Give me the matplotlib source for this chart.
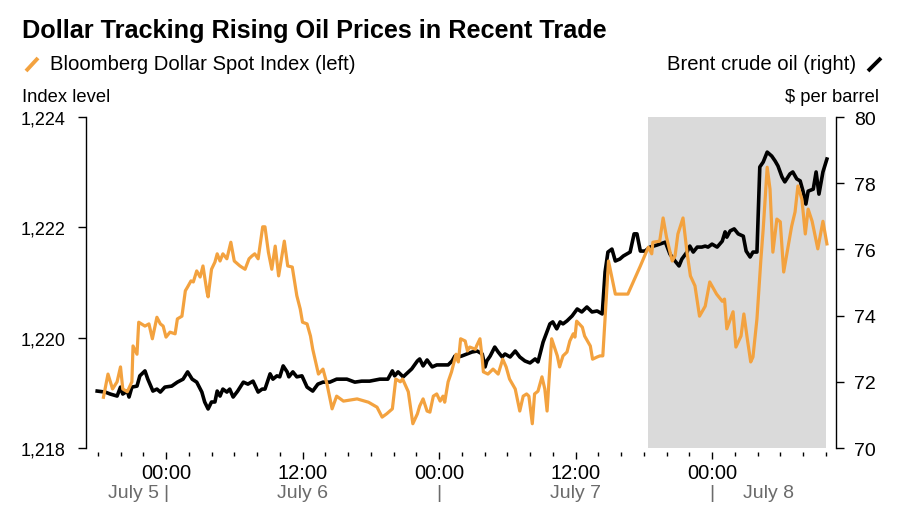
import matplotlib
matplotlib.use('Agg')
import matplotlib.pyplot as plt
from matplotlib.lines import Line2D
import matplotlib.transforms as mtransforms

plt.rcParams['font.family'] = ['Liberation Sans', 'DejaVu Sans']

# hours since July 5 00:00
dxy_hours = [-5.5, -5.1, -4.7, -4.3, -4.0, -3.8, -3.4, -3.0, -2.9, -2.55, -2.4, -1.85, -1.5, -1.2,
             -0.8, -0.5, -0.25, 0.0, 0.35, 0.8, 1.0, 1.4, 1.7, 1.9, 2.2, 2.4, 2.7, 3.0, 3.25, 3.6,
             3.7, 4.0, 4.3, 4.5, 4.75, 5.0, 5.35, 5.7, 6.0, 6.5, 6.95, 7.3, 7.55, 7.8, 8.1, 8.5,
             8.7, 9.0, 9.3, 9.6, 9.9, 10.4, 10.7, 11.1, 11.5, 11.8, 12.0, 12.4, 12.7, 12.9, 13.4,
             13.8, 14.15, 14.6, 15.0, 15.6, 16.8, 17.8, 18.55, 19.0, 19.4, 19.9, 20.2, 20.6, 20.8,
             21.3, 21.7, 22.1, 22.3, 22.6, 22.95, 23.2, 23.5, 23.8, 24.1, 24.35, 24.5, 24.8, 25.1,
             25.5, 25.7, 25.9, 26.3, 26.5, 26.7, 27.2, 27.3, 27.6, 27.8, 27.9, 28.3, 28.75, 29.2,
             29.6, 29.9, 30.2, 30.7, 31.1, 31.4, 31.7, 31.9, 32.2, 32.4, 32.7, 33.05, 33.3, 33.5,
             33.9, 34.4, 34.6, 34.9, 35.25, 35.5, 35.8, 35.95, 36.1, 36.6, 36.8, 37.3, 37.5, 37.9,
             38.15, 38.4, 38.9, 39.5, 40.6, 41.7, 42.4, 42.7, 42.8, 43.4, 43.7, 44.0, 44.5, 44.75,
             45.0, 45.45, 45.8, 46.1, 46.5, 46.9, 47.4, 47.8, 48.4, 48.9, 49.1, 49.3, 49.85, 50.1,
             50.55, 50.8, 51.1, 51.4, 51.6, 51.95, 52.3, 52.5, 52.85, 53.1, 53.35, 53.7, 54.0,
             54.3, 54.7, 55.0, 55.3, 55.55, 55.9, 56.2, 56.45, 56.8, 57.3, 57.75, 58.1]
dxy_values = [1218.92, 1219.34, 1219.07, 1219.20, 1219.47, 1219.07, 1219.02, 1219.20, 1219.85,
              1219.70, 1220.28, 1220.21, 1220.25, 1219.98, 1220.37, 1220.25, 1220.21, 1220.01,
              1220.10, 1220.07, 1220.34, 1220.39, 1220.85, 1220.92, 1221.03, 1221.01, 1221.21,
              1221.10, 1221.30, 1220.83, 1220.74, 1221.24, 1221.37, 1221.52, 1221.39, 1221.52,
              1221.43, 1221.73, 1221.39, 1221.30, 1221.24, 1221.43, 1221.48, 1221.52, 1221.43,
              1222.01, 1222.01, 1221.55, 1221.24, 1221.66, 1221.12, 1221.75, 1221.30, 1221.28,
              1220.76, 1220.52, 1220.28, 1220.25, 1220.03, 1219.79, 1219.34, 1219.43, 1219.16,
              1218.71, 1218.94, 1218.85, 1218.89, 1218.83, 1218.74, 1218.56, 1218.62, 1218.71,
              1219.25, 1219.20, 1219.25, 1219.02, 1218.44, 1218.62, 1218.76, 1218.89, 1218.67,
              1218.65, 1218.94, 1218.98, 1218.85, 1218.94, 1218.83, 1219.20, 1219.38, 1219.70,
              1219.56, 1219.98, 1219.94, 1219.76, 1219.83, 1219.79, 1219.85, 1219.98, 1219.61,
              1219.38, 1219.34, 1219.43, 1219.34, 1219.61, 1219.47, 1219.25, 1219.07, 1218.67,
              1218.94, 1218.98, 1218.94, 1218.44, 1218.98, 1219.03, 1219.29, 1219.07, 1218.67,
              1219.98, 1219.67, 1219.47, 1219.67, 1219.74, 1219.94, 1220.07, 1220.01, 1220.30,
              1220.19, 1220.03, 1219.85, 1219.61, 1219.65, 1219.67, 1219.67, 1221.39, 1220.79,
              1220.79, 1221.30, 1221.64, 1221.52, 1221.73, 1221.75, 1222.17, 1221.82, 1221.39,
              1221.48, 1221.88, 1222.17, 1221.55, 1221.12, 1220.94, 1220.39, 1220.57, 1221.01,
              1220.79, 1220.66, 1220.70, 1220.16, 1220.47, 1219.83, 1220.03, 1220.43, 1219.98,
              1219.56, 1219.65, 1220.34, 1221.43, 1221.97, 1223.09, 1222.69, 1221.55, 1222.15,
              1222.10, 1221.19, 1221.66, 1222.02, 1222.28, 1222.75, 1222.51, 1221.88, 1222.33,
              1222.11, 1221.61, 1222.11, 1221.70]

brent_hours = [-6.05, -5.35, -4.9, -4.3, -4.0, -3.8, -3.4, -3.25, -3.0, -2.55, -2.3, -1.85, -1.6,
               -1.15, -0.8, -0.5, -0.1, 0.5, 1.0, 1.5, 1.9, 2.3, 2.7, 3.15, 3.4, 3.7, 4.0, 4.3,
               4.5, 4.75, 5.0, 5.35, 5.6, 5.9, 6.3, 6.8, 7.2, 7.65, 8.1, 8.45, 8.7, 9.15, 9.4,
               9.75, 10.0, 10.3, 10.65, 10.8, 11.15, 11.5, 11.95, 12.4, 12.9, 13.35, 13.8, 14.4,
               15.0, 15.9, 16.6, 17.2, 17.9, 18.8, 19.5, 19.9, 20.1, 20.4, 20.85, 21.6, 22.1,
               22.3, 22.6, 22.95, 23.4, 23.8, 24.8, 25.15, 25.4, 25.7, 26.0, 26.45, 26.9, 27.35,
               27.8, 28.05, 28.2, 28.5, 28.9, 29.2, 29.55, 29.8, 30.25, 30.7, 31.1, 31.55, 32.0,
               32.45, 32.7, 33.15, 33.75, 34.0, 34.35, 34.65, 34.9, 35.25, 35.7, 36.15, 36.55,
               37.0, 37.45, 37.9, 38.35, 38.6, 38.85, 39.2, 39.5, 39.9, 40.2, 40.8, 41.15, 41.4,
               41.7, 42.1, 42.55, 43.15, 43.9, 44.3, 44.75, 45.1, 45.35, 45.8, 46.05, 46.35, 46.7,
               47.1, 47.4, 47.65, 48.0, 48.45, 48.9, 49.15, 49.3, 49.6, 49.95, 50.3, 50.75, 51.0,
               51.35, 51.6, 51.95, 52.2, 52.5, 52.85, 53.25, 53.55, 53.8, 54.15, 54.4, 54.85,
               55.1, 55.45, 55.75, 56.0, 56.25, 56.45, 56.9, 57.15, 57.4, 57.75, 58.1]
brent_values = [71.72, 71.69, 71.63, 71.57, 71.84, 71.63, 71.72, 71.54, 71.84, 71.87, 72.18, 72.33,
                72.08, 71.72, 71.78, 71.69, 71.84, 71.87, 71.99, 72.08, 72.30, 72.08, 71.99, 71.69,
                71.39, 71.18, 71.39, 71.39, 71.72, 71.57, 71.78, 71.69, 71.78, 71.54, 71.72, 71.99,
                71.93, 72.02, 71.69, 71.78, 71.78, 72.24, 72.08, 72.18, 72.15, 72.48, 72.30, 72.15,
                72.30, 72.15, 72.18, 71.84, 71.72, 71.93, 71.99, 71.99, 72.08, 72.08, 71.99, 72.02,
                72.02, 72.08, 72.08, 72.33, 72.18, 72.30, 72.15, 72.39, 72.63, 72.69, 72.48, 72.66,
                72.45, 72.51, 72.51, 72.63, 72.78, 72.75, 72.78, 72.84, 72.90, 72.93, 72.84, 72.45,
                72.63, 72.78, 73.05, 72.90, 72.75, 72.84, 72.75, 72.93, 72.75, 72.63, 72.57, 72.69,
                72.60, 73.20, 73.75, 73.81, 73.60, 73.81, 73.75, 73.84, 73.99, 74.20, 74.11, 74.26,
                74.11, 74.14, 74.05, 75.32, 75.92, 76.01, 75.65, 75.71, 75.80, 75.92, 76.47, 76.47,
                75.95, 75.95, 76.07, 76.13, 76.22, 75.86, 75.65, 75.50, 75.71, 75.92, 76.10, 75.92,
                76.07, 76.07, 76.10, 76.07, 76.16, 76.07, 76.25, 76.53, 76.37, 76.56, 76.62, 76.47,
                76.40, 75.95, 75.77, 75.92, 75.92, 78.49, 78.64, 78.94, 78.82, 78.67, 78.52, 78.19,
                78.04, 78.28, 78.34, 78.13, 78.07, 77.76, 77.37, 77.76, 77.82, 78.34, 77.67, 78.34,
                78.73]

time_ticks = [0, 12, 24, 36, 48]
time_labels = ['00:00', '12:00', '00:00', '12:00', '00:00']
minor_ticks = list(range(-6, 59, 2))
left_ticks = [1218, 1220, 1222, 1224]
left_labels = ['1,218', '1,220', '1,222', '1,224']
right_ticks = [70, 72, 74, 76, 78, 80]
shade_start, shade_end = 42.4, 58.0

orange = '#f3a23f'
gray_text = '#6b6b6b'

fig = plt.figure(figsize=(9, 5.1), dpi=100)
ax = fig.add_axes([0.0956, 0.1196, 0.8333, 0.649])
ax2 = ax.twinx()

ax2.axvspan(shade_start, shade_end, color='#dadada', lw=0, zorder=0)
ax2.plot(brent_hours, brent_values, color='black', lw=2.6, solid_joinstyle='round', zorder=2)
ax.plot(dxy_hours, dxy_values, color=orange, lw=2.3, solid_joinstyle='round', zorder=3)

ax.set_zorder(ax2.get_zorder() + 1)
ax.patch.set_visible(False)

ax.set_xlim(-7.03, 58.9)
ax.set_ylim(1218, 1224)
ax2.set_ylim(70, 80)

for a in (ax, ax2):
    for s in ['top', 'bottom', 'left', 'right']:
        a.spines[s].set_visible(False)
ax.spines['left'].set_visible(True)
ax2.spines['right'].set_visible(True)
ax.spines['left'].set_linewidth(1.0)
ax2.spines['right'].set_linewidth(1.0)
ax.spines['bottom'].set_position(('outward', 3))

ax.set_yticks(left_ticks)
ax.set_yticklabels(left_labels)
ax2.set_yticks(right_ticks)
ax.tick_params(axis='y', length=6, width=1.0, pad=9, labelsize=13)
ax2.tick_params(axis='y', length=6, width=1.0, pad=7, labelsize=14)

ax.set_xticks(time_ticks)
ax.set_xticklabels(time_labels)
ax.set_xticks(minor_ticks, minor=True)
ax.tick_params(axis='x', which='major', length=5, width=1.0, pad=3, labelsize=14.5)
ax.tick_params(axis='x', which='minor', length=3, width=1.0)

# date labels under the time axis
trans = mtransforms.blended_transform_factory(ax.transData, ax.transAxes)
date_y = -0.135
ax.text(-0.6, date_y, 'July 5', ha='right', va='center', fontsize=14, color=gray_text, transform=trans)
for h in [0, 24, 48]:
    ax.text(h, date_y, '|', ha='center', va='center', fontsize=14, color=gray_text, transform=trans)
ax.text(12, date_y, 'July 6', ha='center', va='center', fontsize=14, color=gray_text, transform=trans)
ax.text(36, date_y, 'July 7', ha='center', va='center', fontsize=14, color=gray_text, transform=trans)
ax.text(53, date_y, 'July 8', ha='center', va='center', fontsize=14, color=gray_text, transform=trans)

# title, legend, unit labels
fig.text(22 / 900, 1 - 31 / 510, 'Dollar Tracking Rising Oil Prices in Recent Trade',
         ha='left', va='center', fontsize=18.2, fontweight='bold')
fig.text(50 / 900, 1 - 65 / 510, 'Bloomberg Dollar Spot Index (left)',
         ha='left', va='center', fontsize=14.6)
fig.text(856 / 900, 1 - 65 / 510, 'Brent crude oil (right)',
         ha='right', va='center', fontsize=14.6)
fig.text(22 / 900, 1 - 97 / 510, 'Index level', ha='left', va='center', fontsize=13.2)
fig.text(879 / 900, 1 - 97 / 510, '$ per barrel', ha='right', va='center', fontsize=13.2)

fig.add_artist(Line2D([26 / 900, 38 / 900], [1 - 72 / 510, 1 - 59 / 510],
                      color=orange, lw=2.8, solid_capstyle='butt', transform=fig.transFigure))
fig.add_artist(Line2D([868 / 900, 881 / 900], [1 - 72 / 510, 1 - 59 / 510],
                      color='black', lw=2.8, solid_capstyle='butt', transform=fig.transFigure))

fig.savefig('out.png', dpi=100)
